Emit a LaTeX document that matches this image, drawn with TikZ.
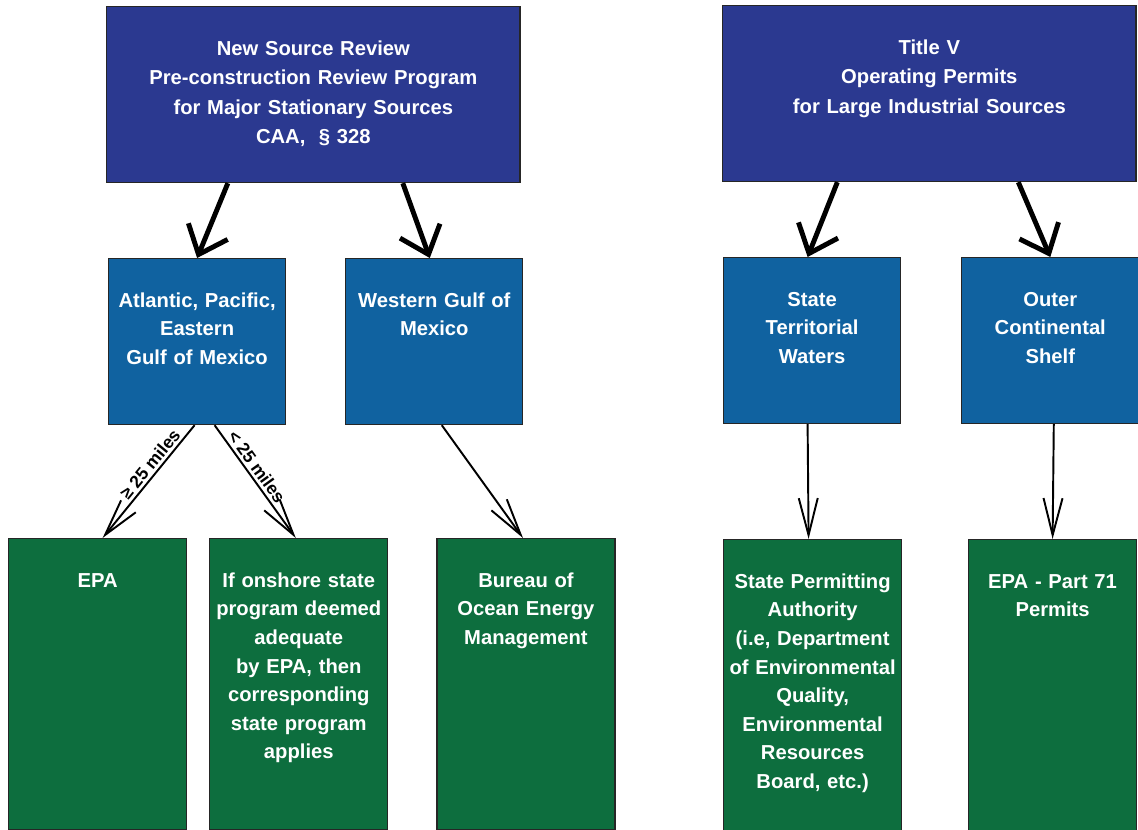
\documentclass[tikz,border=0pt]{standalone}
\usepackage{fontspec}
\setmainfont{Liberation Sans}
\usetikzlibrary{arrows.meta, positioning}

\definecolor{navy}{RGB}{43,57,144}
\definecolor{sea}{RGB}{16,98,160}
\definecolor{leaf}{RGB}{13,110,62}

\begin{document}
\begin{tikzpicture}[x = 0.02cm, y = -0.02cm,
	box/.style = {draw = black!85, line width = 0.7pt, inner sep = 0pt, align = center, text = white, text height = 0.97cm, font = \bfseries\fontsize{11.5}{16.3}\selectfont},
	topbox/.style = {box, fill = navy, text width = 8.27cm, text depth = 2.55cm, font = \bfseries\fontsize{11.5}{16.8}\selectfont},
	midbox/.style = {box, fill = sea, text width = 3.54cm, text depth = 2.35cm},
	endbox/.style = {box, fill = leaf, text width = 3.56cm, text depth = 4.85cm},
	bigarrow/.style = {-{Straight Barb[length = 0.5cm, width = 0.85cm]}, line width = 2.8pt},
	thinarrow/.style = {-{Straight Barb[length = 0.74cm, width = 0.38cm]}, line width = 1.1pt},
	dist/.style = {font = \bfseries\fontsize{10}{12}\selectfont, inner sep = 1.5pt}]

\useasboundingbox (0,0) rectangle (1138,830);

\node[topbox, anchor = north west]		(nsr) at (106,6)			{New Source Review\\Pre-construction Review Program\\for Major Stationary Sources\\CAA, \ § 328};
\node[topbox, anchor = north west]		(tv) at (722,5)			{Title V\\Operating Permits\\for Large Industrial Sources};

\node[midbox, anchor = north west]		(atl) at (108,258)		{Atlantic, Pacific,\\Eastern\\Gulf of Mexico};
\node[midbox]						(wgm) [right = 1.18cm of atl]	{Western Gulf of\\Mexico};
\node[midbox, anchor = north west]		(stw) at (723,257)		{State\\Territorial\\Waters};
\node[midbox]						(ocs) [right = 1.2cm of stw]	{Outer\\Continental\\Shelf};

\node[endbox, anchor = north west]		(epa) at (8,538)			{EPA};
\node[endbox]						(ons) [right = 0.44cm of epa]	{If onshore state\\program deemed\\adequate\\by EPA, then\\corresponding\\state program\\applies};
\node[endbox]						(bom) [right = 0.96cm of ons]	{Bureau of\\Ocean Energy\\Management};
\node[endbox, anchor = north west]		(spa) at (723,539)		{State Permitting\\Authority\\(i.e, Department\\of Environmental\\Quality,\\Environmental\\Resources\\Board, etc.)};
\node[endbox, anchor = north west, text width = 3.36cm]	(p71) at (968,539)	{EPA - Part 71\\Permits};

\draw[bigarrow]	([xshift = -1.71cm]nsr.south)	--	(atl.north);
\draw[bigarrow]	([xshift = 1.79cm]nsr.south)	--	([xshift = -0.09cm]wgm.north);
\draw[bigarrow]	([xshift = -1.84cm]tv.south)	--	([xshift = -0.09cm]stw.north);
\draw[bigarrow]	([xshift = 1.78cm]tv.south)		--	(ocs.north);

\draw[thinarrow]	([xshift = -0.05cm]atl.south)	--	node[dist, sloped, above, pos = 0.4] {≥ 25 miles}	([xshift = 0.1cm]epa.north);
\draw[thinarrow]	([xshift = 0.35cm]atl.south)	--	node[dist, sloped, above, pos = 0.42] {< 25 miles}	([xshift = -0.06cm]ons.north);
\draw[thinarrow]	([xshift = 0.15cm]wgm.south)	--	([xshift = -0.06cm]bom.north);
\draw[thinarrow]	([xshift = -0.09cm]stw.south)	--	([xshift = -0.08cm]spa.north);
\draw[thinarrow]	([xshift = 0.07cm]ocs.south)	--	(p71.north);

\end{tikzpicture}
\end{document}
